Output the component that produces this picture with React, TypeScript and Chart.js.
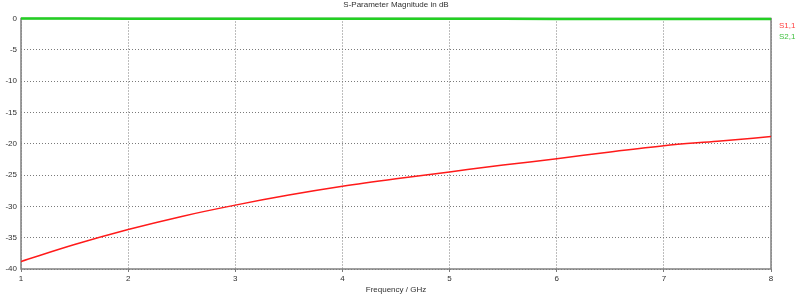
import React, { useEffect, useRef } from "react";
import { Chart, registerables } from "chart.js";

Chart.register(...registerables);

const freqGHz = [1, 1.5, 2, 2.5, 3, 3.5, 4, 4.5, 5, 5.5, 6, 6.5, 7, 7.5, 8];
const s11dB = [-38.8, -36.1, -33.7, -31.6, -29.8, -28.2, -26.8, -25.6, -24.5, -23.4, -22.4, -21.3, -20.3, -19.6, -18.85];
const s21dB = [-0.01, -0.01, -0.02, -0.02, -0.03, -0.03, -0.04, -0.04, -0.05, -0.05, -0.06, -0.06, -0.07, -0.07, -0.08];
const xTicks = [1, 2, 3, 4, 5, 6, 7, 8];
const yTicks = [0, -5, -10, -15, -20, -25, -30, -35, -40];
const seriesNames = ["S1,1", "S2,1"];
const titleText = "S-Parameter Magnitude in dB";
const xTitle = "Frequency / GHz";

const FONT = "Liberation Sans";
const RED = "#ff1a1a";
const GREEN = "#22d022";

export default function App() {
  const ref = useRef<HTMLCanvasElement | null>(null);
  useEffect(() => {
    document.body.style.margin = "0";
    const canvas = ref.current!;
    const overlay = {
      id: "overlay",
      beforeDatasetsDraw(chart: any) {
        const { ctx, chartArea } = chart;
        ctx.save();
        ctx.strokeStyle = "#808080";
        ctx.lineWidth = 1.5;
        ctx.setLineDash([]);
        ctx.strokeRect(chartArea.left, chartArea.top, chartArea.right - chartArea.left, chartArea.bottom - chartArea.top);
        ctx.restore();
      },
      afterDraw(chart: any) {
        const { ctx, chartArea } = chart;
        ctx.save();
        ctx.font = `8px "${FONT}"`;
        ctx.textBaseline = "middle";
        ctx.textAlign = "center";
        ctx.fillStyle = "#303030";
        ctx.fillText(titleText, (chartArea.left + chartArea.right) / 2, 5);
        ctx.textAlign = "left";
        ctx.fillStyle = "#ff4040";
        ctx.fillText(seriesNames[0], chartArea.right + 8, 26);
        ctx.fillStyle = "#40c040";
        ctx.fillText(seriesNames[1], chartArea.right + 8, 37);
        ctx.restore();
      },
    };
    const chart = new Chart(canvas, {
      type: "line",
      data: {
        datasets: [
          {
            label: seriesNames[0],
            data: freqGHz.map((f, i) => ({ x: f, y: s11dB[i] })),
            borderColor: RED,
            borderWidth: 1.5,
            pointRadius: 0,
            cubicInterpolationMode: "monotone",
          },
          {
            label: seriesNames[1],
            data: freqGHz.map((f, i) => ({ x: f, y: s21dB[i] })),
            borderColor: GREEN,
            borderWidth: 2.5,
            pointRadius: 0,
            clip: false,
          },
        ],
      },
      plugins: [overlay],
      options: {
        animation: false,
        responsive: false,
        layout: { padding: { top: 18.5, right: 29, left: 0, bottom: 0 } },
        plugins: { legend: { display: false }, title: { display: false }, tooltip: { enabled: false } },
        scales: {
          x: {
            type: "linear",
            min: 1,
            max: 8,
            afterFit(s: any) { s.height = 29; },
            afterBuildTicks(s: any) { s.ticks = xTicks.map((v) => ({ value: v })); },
            ticks: { font: { family: FONT, size: 8 }, color: "#303030", padding: 2, maxRotation: 0 },
            grid: { color: "#7a7a7a", tickLength: 3, drawOnChartArea: true },
            border: { display: false, dash: [1, 2] },
            title: { display: true, text: xTitle, font: { family: FONT, size: 8 }, color: "#303030", padding: { top: 0, bottom: 3 } },
          },
          y: {
            type: "linear",
            min: -40,
            max: 0,
            afterFit(s: any) { s.width = 21; },
            afterBuildTicks(s: any) { s.ticks = yTicks.map((v) => ({ value: v })); },
            ticks: { font: { family: FONT, size: 8 }, color: "#303030", padding: 4 },
            grid: { color: "#7a7a7a", drawTicks: false },
            border: { display: false, dash: [1, 2] },
          },
        },
      } as any,
    });
    return () => chart.destroy();
  }, []);
  return (
    <div style={{ position: "absolute", left: 0, top: 0, width: 800, height: 298, background: "#fff" }}>
      <canvas ref={ref} width={800} height={298} style={{ width: 800, height: 298 }} />
    </div>
  );
}
